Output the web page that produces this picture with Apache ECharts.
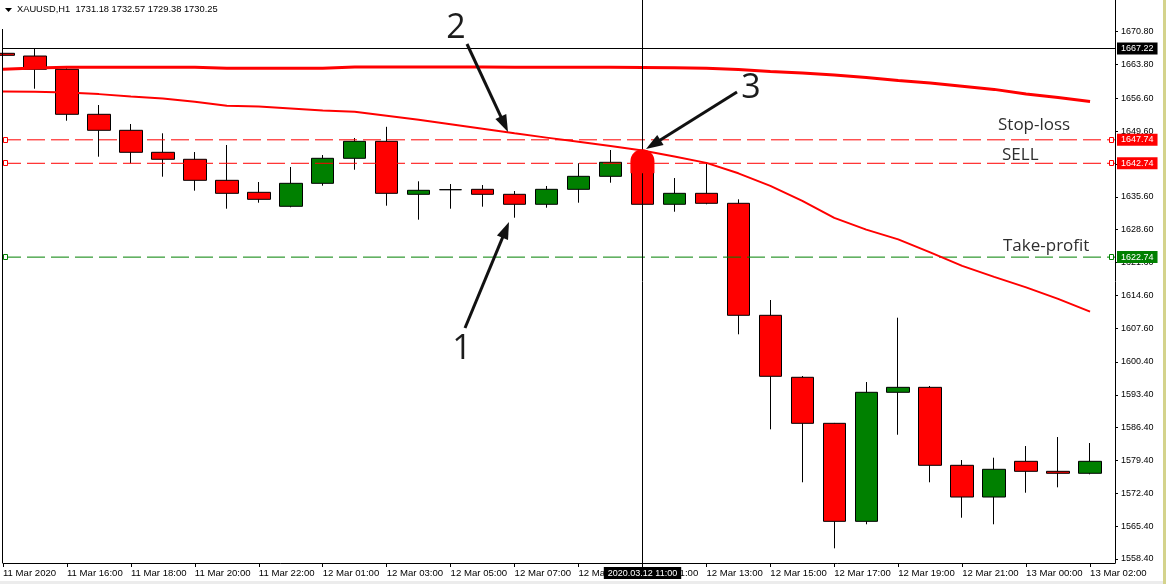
<!DOCTYPE html>
<html><head><meta charset="utf-8">
<script src="https://cdn.jsdelivr.net/npm/echarts@6/dist/echarts.min.js"></script>
<style>html,body{margin:0;padding:0;background:#fff}#c{width:1166px;height:584px}</style>
</head><body><div id="c"></div>
<script>
// ---- data ----
const categories = ['11 Mar 14:00','11 Mar 15:00','11 Mar 16:00','11 Mar 17:00','11 Mar 18:00','11 Mar 19:00','11 Mar 20:00','11 Mar 21:00','11 Mar 22:00','11 Mar 23:00',
  '12 Mar 01:00','12 Mar 02:00','12 Mar 03:00','12 Mar 04:00','12 Mar 05:00','12 Mar 06:00','12 Mar 07:00','12 Mar 08:00','12 Mar 09:00','12 Mar 10:00',
  '12 Mar 11:00','12 Mar 12:00','12 Mar 13:00','12 Mar 14:00','12 Mar 15:00','12 Mar 16:00','12 Mar 17:00','12 Mar 18:00','12 Mar 19:00','12 Mar 20:00',
  '12 Mar 21:00','12 Mar 22:00','13 Mar 00:00','13 Mar 01:00','13 Mar 02:00'];
const openP  = [1666.18,1665.60,1662.77,1653.18,1649.77,1645.08,1643.59,1639.11,1636.55,1633.57,1638.47,1643.80,1647.42,1636.13,1637.11,1637.19,1636.13,1634.00,1637.19,1639.96,1642.95,1634.00,1636.34,1634.21,1610.34,1597.13,1587.32,1566.43,1593.93,1594.99,1578.37,1571.61,1579.22,1577.09,1576.67];
const closeP = [1665.75,1662.77,1653.18,1649.77,1645.08,1643.59,1639.11,1636.34,1635.06,1638.47,1643.80,1647.42,1636.34,1636.98,1637.11,1636.13,1634.00,1637.19,1639.96,1642.95,1634.00,1636.34,1634.21,1610.34,1597.34,1587.32,1566.43,1593.93,1594.99,1578.37,1571.61,1577.52,1577.09,1576.67,1579.22];
const lowP   = [1665.18,1658.63,1651.81,1644.14,1642.74,1639.88,1636.90,1633.06,1634.34,1633.36,1637.96,1641.37,1633.70,1630.72,1633.06,1633.49,1631.14,1633.27,1634.34,1638.60,1632.36,1632.42,1634.00,1606.29,1586.04,1574.75,1560.68,1565.80,1584.89,1574.75,1567.20,1565.80,1572.53,1573.68,1576.45];
const highP  = [1666.88,1667.30,1663.05,1655.16,1651.11,1649.13,1645.14,1646.64,1638.75,1641.95,1644.50,1648.13,1650.51,1638.90,1638.32,1638.11,1636.83,1637.90,1642.74,1645.57,1645.50,1639.60,1642.86,1635.06,1613.60,1597.40,1587.40,1596.12,1609.83,1595.27,1579.50,1579.99,1582.48,1584.40,1583.12];
const maFast = [1658.04,1657.97,1657.80,1657.48,1656.97,1656.54,1655.84,1654.99,1654.84,1654.41,1653.99,1653.71,1652.86,1652.00,1651.04,1650.08,1649.12,1648.21,1647.31,1646.40,1645.48,1644.18,1642.83,1640.60,1637.93,1634.73,1631.11,1628.61,1626.52,1623.75,1620.87,1618.53,1616.29,1613.84,1611.13];
const maSlow = [1662.77,1663.05,1663.20,1663.20,1663.20,1663.21,1663.20,1662.98,1662.98,1662.98,1662.98,1663.26,1663.26,1663.26,1663.26,1663.25,1663.22,1663.22,1663.20,1663.20,1663.15,1663.09,1663.02,1662.73,1662.30,1661.96,1661.55,1661.02,1660.38,1659.85,1659.17,1658.49,1657.51,1656.78,1655.91];
const xTickBars = [0,2,4,6,8,10,12,14,16,18,20,22,24,26,28,30,32,34];
const xTickLabels = ['11 Mar 2020','11 Mar 16:00','11 Mar 18:00','11 Mar 20:00','11 Mar 22:00','12 Mar 01:00','12 Mar 03:00','12 Mar 05:00','12 Mar 07:00','12 Mar 09:00','12 Mar 11:00','12 Mar 13:00','12 Mar 15:00','12 Mar 17:00','12 Mar 19:00','12 Mar 21:00','13 Mar 00:00','13 Mar 02:00'];
const yTickLabels = ['1670.80','1663.80','1656.60','1649.60','1642.60','1635.60','1628.60','1621.60','1614.60','1607.60','1600.40','1593.40','1586.40','1579.40','1572.40','1565.40','1558.40'];
const levelValues = [1647.74, 1642.74, 1622.74];
const levelNames = ['Stop-loss', 'SELL', 'Take-profit'];
const crossBar = 20;
const crossTime = '2020.03.12 11:00';
const crossPrice = 1667.22;
const titleText = 'XAUUSD,H1  1731.18 1732.57 1729.38 1730.25';

// ---- chart ----
const FONT = '"Liberation Sans", Arial, sans-serif';
const levelColors = ['#ff0000', '#ff0000', '#008000'];
const yTicks = yTickLabels.map(Number);
const rows = categories.map((c, i) => [i, openP[i], closeP[i], lowP[i], highP[i]]);
const X_MAX = 34.78;

const levelSeries = levelValues.map((v, k) => ({
  type: 'line', name: levelNames[k], data: [[0, v], [X_MAX, v]], symbol: 'none', z: 4, silent: true,
  color: levelColors[k], lineStyle: {color: levelColors[k], width: 1, type: [18, 6]}
}));

const chart = echarts.init(document.getElementById('c'), null, {renderer: 'canvas'});
chart.setOption({
  animation: false,
  backgroundColor: '#ffffff',
  title: {text: titleText, left: 17, top: 5, padding: 0,
    textStyle: {fontSize: 9.3, fontWeight: 'normal', color: '#000', fontFamily: FONT}},
  grid: {left: 2, right: 51, top: 0, bottom: 21},
  xAxis: {
    type: 'value', min: 0, max: X_MAX,
    axisLine: {show: true, onZero: false, lineStyle: {color: '#000', width: 1}},
    axisTick: {show: true, customValues: xTickBars, length: 4, lineStyle: {color: '#000'}},
    axisLabel: {show: true, customValues: xTickBars, align: 'left', margin: 5, color: '#000', fontSize: 9.6, fontFamily: FONT,
      formatter: v => xTickLabels[xTickBars.indexOf(Math.round(v))] || ''},
    splitLine: {show: false}
  },
  yAxis: {
    type: 'value', position: 'right', min: 1557.55, max: 1677.54,
    axisLine: {show: true, onZero: false, lineStyle: {color: '#000', width: 1}},
    axisTick: {show: true, customValues: yTicks, length: 3, lineStyle: {color: '#000'}},
    axisLabel: {show: true, customValues: yTicks, margin: 6, color: '#000', fontSize: 9, fontFamily: FONT,
      formatter: v => v.toFixed(2)},
    splitLine: {show: false}
  },
  series: [
    {
      type: 'candlestick', data: rows, encode: {x: 0, y: [1, 2, 3, 4]}, barWidth: 23, z: 2,
      itemStyle: {color: '#008000', color0: '#ff0000', borderColor: '#000', borderColor0: '#000', borderColorDoji: '#000', borderWidth: 1}
    },
    ...levelSeries,
    {
      type: 'line', data: maSlow.map((v, i) => [i, v]), symbol: 'none', z: 5, color: '#ff0000',
      lineStyle: {color: '#ff0000', width: 3}
    },
    {
      type: 'line', data: maFast.map((v, i) => [i, v]), symbol: 'none', z: 5, color: '#ff0000',
      lineStyle: {color: '#ff0000', width: 2}
    }
  ]
});

// ---- crosshair, labels and annotations (positioned through the chart's scales) ----
const px = (x, y) => chart.convertToPixel({gridIndex: 0}, [x, y]);
const gLeft = px(0, crossPrice)[0];
const gRight = px(X_MAX, crossPrice)[0];
const gTop = px(0, 1677.54)[1];
const gBottom = px(0, 1557.55)[1];
const snap = v => Math.floor(v) + 0.5;
const boxLabel = (text, x, y, bg, align, vAlign) => ({
  type: 'text', z: 30,
  style: {text: text, x: x, y: y, align: align, verticalAlign: vAlign, fill: '#fff', backgroundColor: bg,
    padding: [2, 4, 1, 4], font: '9px ' + FONT}
});

function arrow(x1, y1, x2, y2) {
  const dx = x2 - x1, dy = y2 - y1, L = Math.hypot(dx, dy);
  const ux = dx / L, uy = dy / L, hl = 17, hw = 6;
  const bx = x2 - ux * hl, by = y2 - uy * hl;
  return [
    {type: 'line', z: 20, shape: {x1: x1, y1: y1, x2: bx + ux * 2, y2: by + uy * 2}, style: {stroke: '#111', lineWidth: 3}},
    {type: 'polygon', z: 20, shape: {points: [[x2, y2], [bx - uy * hw, by + ux * hw], [bx + uy * hw, by - ux * hw]]}, style: {fill: '#111'}}
  ];
}
const levelGraphics = [];
levelValues.forEach((v, k) => {
  const y = px(0, v)[1];
  const c = levelColors[k];
  levelGraphics.push({type: 'rect', z: 12, shape: {x: gLeft + 0.5, y: Math.round(y) - 2.5, width: 4, height: 5}, style: {fill: '#fff', stroke: c, lineWidth: 1}});
  levelGraphics.push({type: 'rect', z: 12, shape: {x: gRight - 5.5, y: Math.round(y) - 2.5, width: 4, height: 5}, style: {fill: '#fff', stroke: c, lineWidth: 1}});
  levelGraphics.push(boxLabel(v.toFixed(2), gRight + 2, y, c, 'left', 'middle'));
});
const crossX = snap(px(crossBar, crossPrice)[0]);
const crossY = snap(px(crossBar, crossPrice)[1]);
const top20 = px(crossBar, highP[crossBar]);
const textStyleBig = {font: '34px "Open Sans", sans-serif', fill: '#1c1c1c', align: 'center', verticalAlign: 'middle'};
const textStyleLvl = {font: '17px "Open Sans", sans-serif', fill: '#2e2e2e', align: 'left', verticalAlign: 'middle'};
const levelTextPos = [[998, 125], [1002, 155], [1003, 246]];
chart.setOption({
  graphic: [
    ...levelGraphics,
    {type: 'line', z: 13, shape: {x1: crossX, y1: gTop, x2: crossX, y2: gBottom}, style: {stroke: '#000', lineWidth: 1}},
    {type: 'line', z: 13, shape: {x1: gLeft, y1: crossY, x2: gRight, y2: crossY}, style: {stroke: '#000', lineWidth: 1}},
    boxLabel(crossPrice.toFixed(2), gRight + 2, crossY, '#000', 'left', 'middle'),
    boxLabel(crossTime, crossX, gBottom + 4, '#000', 'center', 'top'),
    {type: 'rect', z: 15, shape: {x: top20[0] - 12, y: top20[1] - 1, width: 24, height: 24, r: [12, 12, 0, 0]}, style: {fill: '#ff0000'}},
    {type: 'polygon', z: 20, shape: {points: [[5, 8], [12, 8], [8.5, 12]]}, style: {fill: '#000'}},
    {type: 'line', z: 20, shape: {x1: 2.5, y1: 29, x2: 2.5, y2: gBottom}, style: {stroke: '#000', lineWidth: 1}},
    {type: 'rect', z: 20, shape: {x: 1163, y: 0, width: 3, height: 584}, style: {fill: '#d4d38c'}},
    {type: 'rect', z: 20, shape: {x: 0, y: 581, width: 1163, height: 3}, style: {fill: '#ececec'}},
    ...arrow(467, 44, 508, 132),
    ...arrow(737, 92, 646, 149),
    ...arrow(465, 328, 509, 222),
    {type: 'text', z: 20, style: Object.assign({text: '2', x: 456, y: 28}, textStyleBig)},
    {type: 'text', z: 20, style: Object.assign({text: '3', x: 751, y: 88}, textStyleBig)},
    {type: 'text', z: 20, style: Object.assign({text: '1', x: 462, y: 349}, textStyleBig)},
    ...levelNames.map((t, k) => ({type: 'text', z: 20, style: Object.assign({text: t, x: levelTextPos[k][0], y: levelTextPos[k][1]}, textStyleLvl)}))
  ]
});
</script>
</body></html>
